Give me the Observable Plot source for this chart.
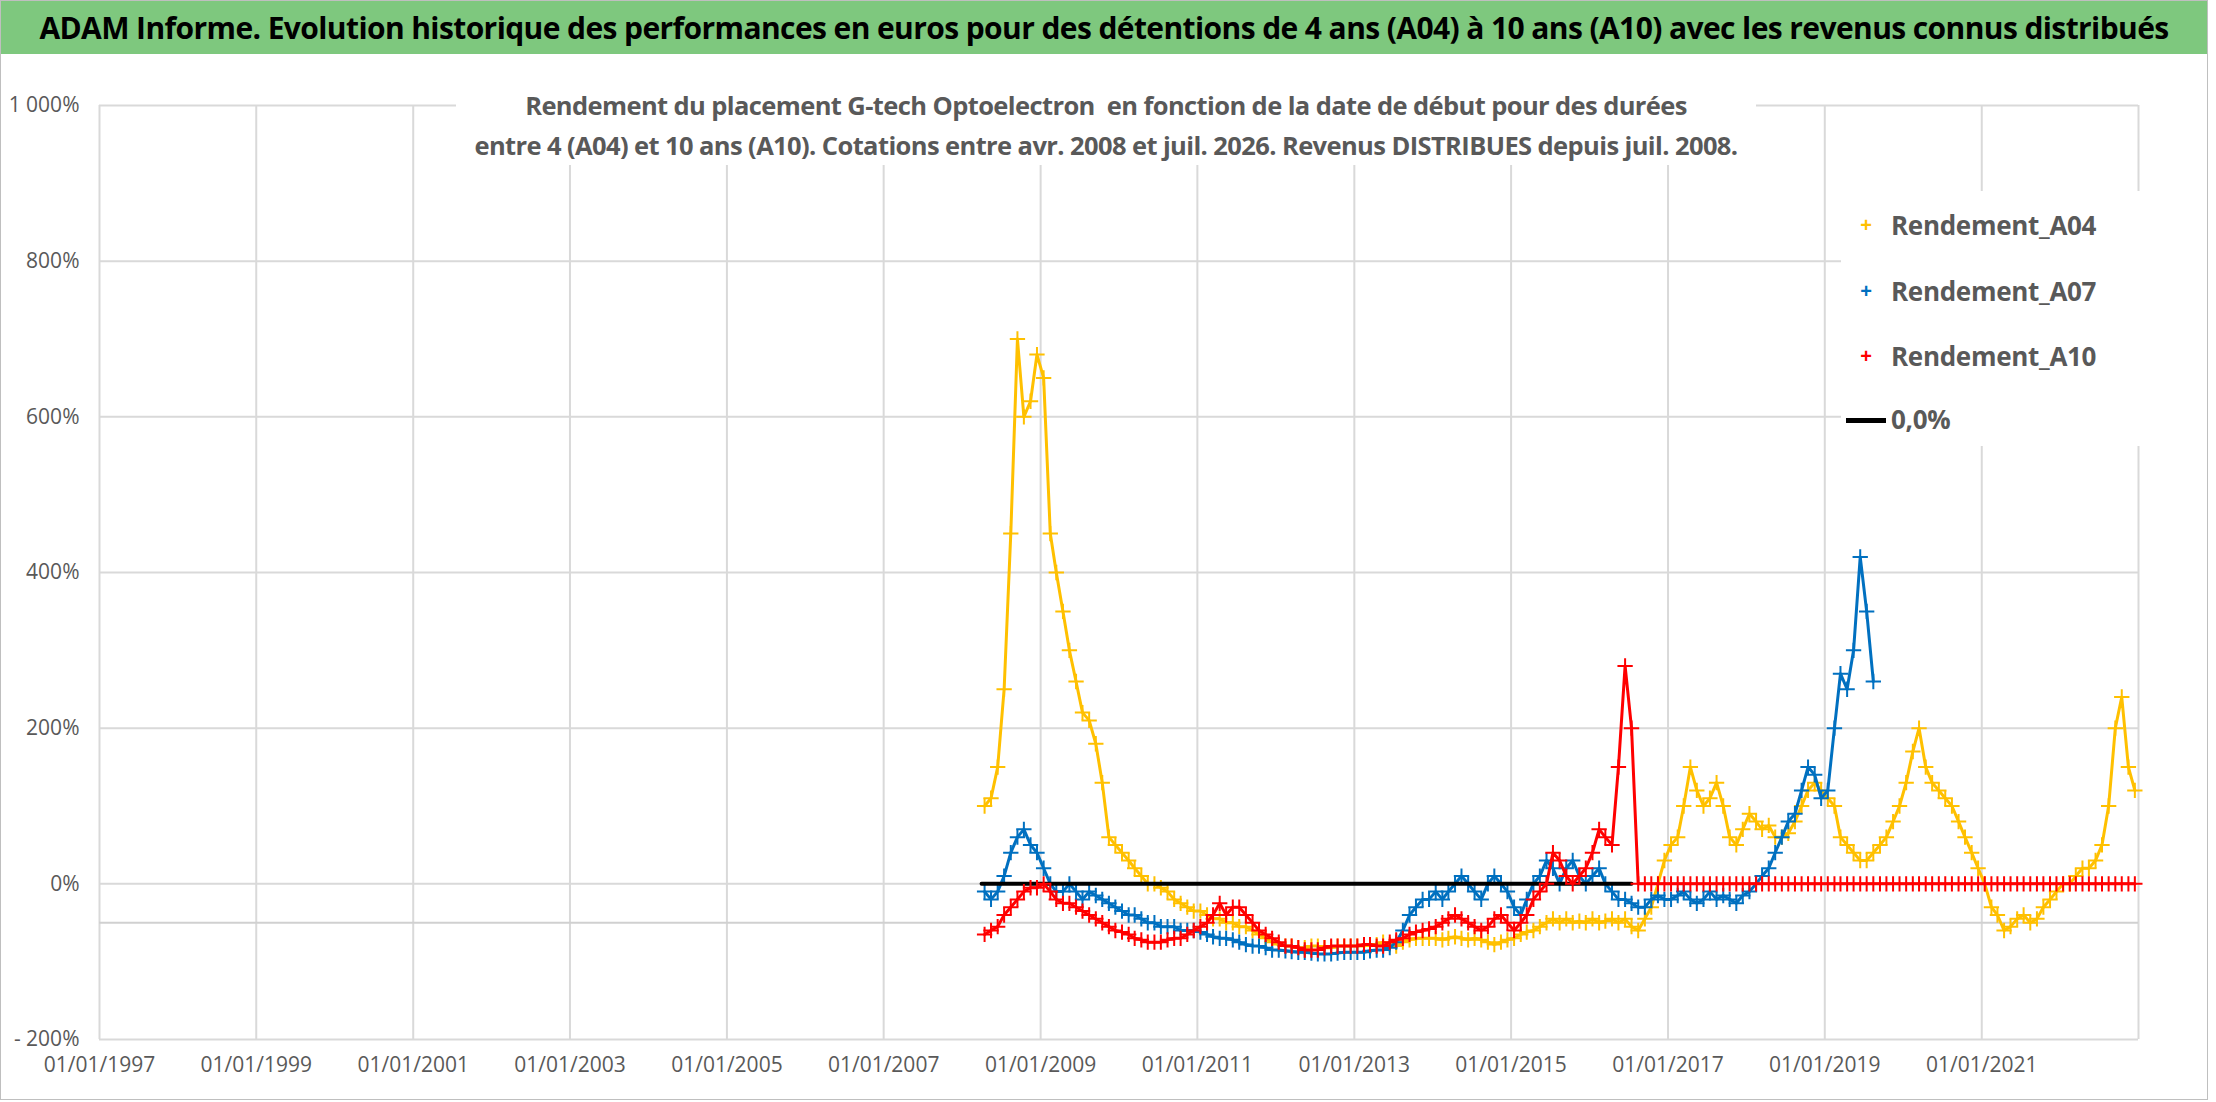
<!DOCTYPE html>
<html><head><meta charset="utf-8">
<script src="https://cdn.jsdelivr.net/npm/d3@7"></script>
<script src="https://cdn.jsdelivr.net/npm/@observablehq/plot@0.6"></script>
<style>
body{margin:0;background:#fff;font-family:"Open Sans",sans-serif;}
#wrap{position:relative;width:2208px;height:1100px;border:1px solid #bfbfbf;box-sizing:border-box;overflow:hidden}
#banner{position:absolute;left:0;top:0;width:100%;height:53px;background:#7ec87e;font:bold 30px "Open Sans",sans-serif;color:#000;display:flex;align-items:center;justify-content:center;letter-spacing:-0.6px;white-space:nowrap}
#chart{position:absolute;left:0;top:53px}
#sub{position:absolute;left:455px;top:84px;width:1300px;text-align:center;background:#fff;color:#595959;font:bold 25.5px "Open Sans",sans-serif;letter-spacing:-0.6px;line-height:40px;white-space:nowrap}
#legend{position:absolute;left:1840px;top:190px;width:310px;height:255px;background:#fff;color:#595959;font:bold 26px "Open Sans",sans-serif;letter-spacing:-0.3px}
.li{position:absolute;left:0;height:30px;display:flex;align-items:center}
.mk{width:50px;text-align:center;font:bold 20px sans-serif}
</style></head><body>
<div id="wrap">
<div id="banner">ADAM Informe. Evolution historique des performances en euros pour des détentions de 4 ans (A04) à 10 ans (A10) avec les revenus connus distribués</div>
<div id="chart"></div>
<div id="sub">Rendement du placement G-tech Optoelectron&nbsp; en fonction de la date de début pour des durées<br>entre 4 (A04) et 10 ans (A10). Cotations entre avr. 2008 et juil. 2026. Revenus DISTRIBUES depuis juil. 2008.</div>
<div id="legend">
 <div class="li" style="top:19px"><span class="mk" style="color:#ffc000">+</span>Rendement_A04</div>
 <div class="li" style="top:85px"><span class="mk" style="color:#0070c0">+</span>Rendement_A07</div>
 <div class="li" style="top:150px"><span class="mk" style="color:#ff0000">+</span>Rendement_A10</div>
 <div class="li" style="top:213px"><span class="mk"><span style="display:inline-block;width:40px;height:5px;background:#000;vertical-align:middle"></span></span>0,0%</div>
</div>
</div>
<script>
// monthly values (%) starting April 2008
const startA04 = [2008, 3];
const A04 = [
 100,110,150,250,450,700,600,620,680,
 650,450,400,350,300,260,220,210,180,130,60,50,
 40,30,20,10,0,0,-5,-10,-20,-25,-30,-35,
 -35,-40,-45,-45,-50,-50,-55,-55,-60,-65,-70,-75,
 -78,-80,-80,-82,-82,-80,-80,-82,-82,-80,-80,-80,
 -80,-80,-78,-78,-75,-78,-80,-75,-72,-70,-70,-70,
 -70,-72,-70,-68,-70,-72,-70,-72,-75,-78,-75,-72,
 -70,-65,-62,-60,-55,-50,-45,-50,-45,-50,-48,-50,
 -45,-50,-48,-45,-50,-45,-55,-60,-45,-30,0,30,
 50,60,100,150,120,100,110,130,100,60,50,70,
 90,80,70,75,60,60,65,80,100,120,130,120,
 110,100,60,50,40,30,30,40,50,60,80,100,
 130,170,200,150,130,120,110,100,80,60,40,20,
 0,-30,-40,-60,-55,-45,-40,-50,-45,-30,-20,-10,
 0,0,10,20,20,30,50,100,200,240,150,120];
const A07 = [
 -10,-20,-10,10,40,60,70,50,40,
 20,0,-10,-10,0,-10,-20,-10,-15,-20,-25,-30,
 -35,-40,-40,-45,-50,-50,-55,-55,-55,-60,-60,-60,
 -62,-65,-68,-70,-70,-72,-75,-78,-80,-80,-82,-85,
 -85,-86,-87,-88,-88,-89,-90,-90,-90,-89,-88,-88,
 -88,-88,-86,-85,-85,-82,-75,-60,-40,-30,-20,-20,
 -10,-20,-10,0,10,0,-10,-20,0,10,0,-10,
 -30,-40,-20,0,10,30,20,0,20,30,10,0,
 10,20,0,-10,-20,-20,-25,-30,-30,-20,-15,-20,
 -20,-15,-10,-20,-25,-20,-10,-20,-15,-20,-25,-15,
 -10,0,10,20,40,60,80,90,120,150,140,110,
 120,200,270,250,300,420,350,260];
const A10active = [
 -65,-60,-55,-40,-30,-20,-10,-5,-5,
 0,-10,-20,-25,-25,-30,-35,-40,-45,-50,-55,-60,
 -62,-65,-70,-72,-75,-75,-75,-72,-70,-70,-65,-60,
 -55,-50,-40,-25,-40,-30,-30,-40,-50,-60,-65,-70,
 -75,-80,-80,-82,-85,-85,-85,-82,-80,-80,-80,-80,
 -80,-78,-78,-80,-80,-75,-72,-70,-65,-62,-60,-58,
 -55,-50,-45,-40,-45,-50,-55,-60,-55,-45,-40,-50,
 -60,-50,-40,-20,-10,0,40,30,10,0,10,20,
 40,70,60,50,150,280,200];
const A10zeroMonths = 77; // Aug 2016 .. Dec 2022, value 0
const A10 = A10active.concat(new Array(A10zeroMonths).fill(0));
const zeroLine = [{date:new Date(2008,3,1),v:0},{date:new Date(2016,6,15),v:0}];
const yTicks = [-200,0,200,400,600,800,1000];
const xTickYears = [1997,1999,2001,2003,2005,2007,2009,2011,2013,2015,2017,2019,2021];

function toRows(arr, name){
  return arr.map((v,i)=>({date:new Date(startA04[0], startA04[1]+i, 15), v, s:name}));
}
const rA04 = toRows(A04,"A04"), rA07 = toRows(A07,"A07"), rA10 = toRows(A10,"A10");
const col = {A04:"#ffc000", A07:"#0070c0", A10:"#ff0000"};
const fmt = d3.timeFormat("%d/%m/%Y");
const series = (rows,c)=>[
  Plot.line(rows,{x:"date",y:"v",stroke:c,strokeWidth:3}),
  Plot.dot(rows,{x:"date",y:"v",symbol:"plus",r:5,stroke:c,strokeWidth:2})
];
const chart = Plot.plot({
  width:2206, height:1047,
  marginLeft:98, marginRight:69, marginTop:51, marginBottom:62,
  style:{fontSize:"21px",color:"#595959",fontFamily:"'Open Sans',sans-serif",background:"transparent"},
  x:{type:"time",domain:[new Date(1997,0,1),new Date(2023,0,1)],ticks:xTickYears.map(y=>new Date(y,0,1)),tickFormat:fmt,tickSize:0,tickPadding:18,label:null},
  y:{domain:[-200,1000],ticks:yTicks,tickFormat:d=>d===1000?"1 000%":d<0?"- 200%":d+"%",tickSize:0,tickPadding:20,label:null},
  marks:[
    Plot.gridX(xTickYears.map(y=>new Date(y,0,1)).concat([new Date(2023,0,1)]),{stroke:"#d9d9d9",strokeOpacity:1,strokeWidth:2}),
    Plot.gridY(yTicks,{stroke:"#d9d9d9",strokeOpacity:1,strokeWidth:2}),
    Plot.ruleY([-50],{stroke:"#d0d0d0",strokeWidth:2}),
    ...series(rA04,col.A04),
    ...series(rA07,col.A07),
    Plot.line(zeroLine,{x:"date",y:"v",stroke:"#000",strokeWidth:4}),
    ...series(rA10,col.A10)
  ]
});
document.getElementById("chart").appendChild(chart);
</script>
</body></html>
